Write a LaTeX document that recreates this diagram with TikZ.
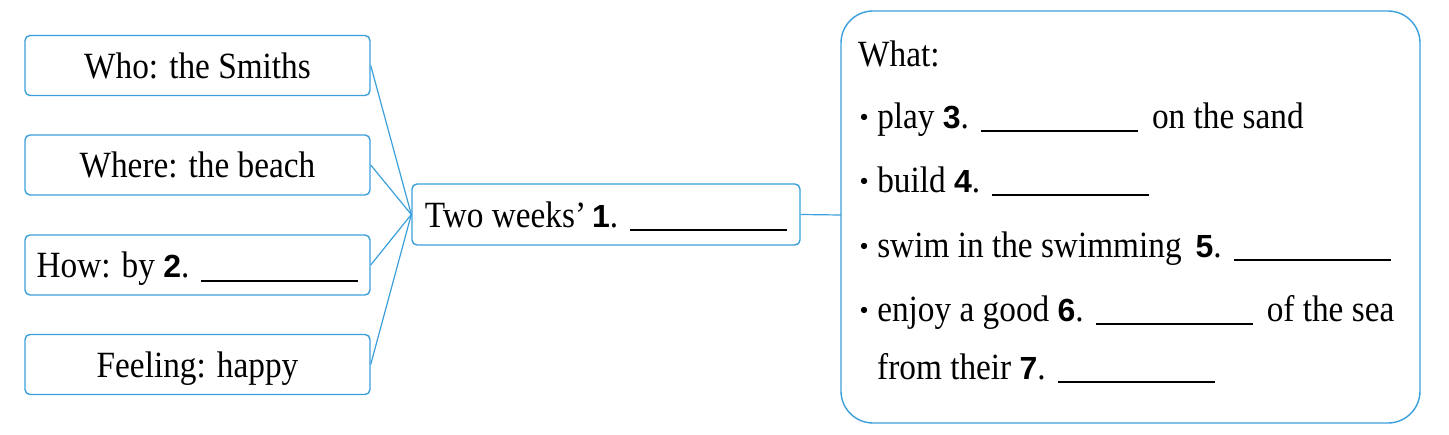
\documentclass[tikz,border=0pt]{standalone}
\usepackage{fontspec}
\setmainfont[FakeStretch=0.9]{Liberation Serif}
\newfontfamily\numfont{Liberation Sans}
\definecolor{lineblue}{HTML}{3A9FDB}
\newcommand{\blank}[1][157pt]{\rule[-4pt]{#1}{1.6pt}}
\newcommand{\num}[1]{{\numfont\bfseries\fontsize{32}{36}\selectfont #1}}
\newcommand{\dotmark}{\raisebox{7pt}{\scalebox{0.65}{$\bullet$}}}
\begin{document}
\begin{tikzpicture}[x=1pt,y=-1pt,
  box/.style={draw=lineblue, line width=1.4pt, rounded corners=5pt, minimum width=345pt, minimum height=60pt, inner sep=0pt, text height=30pt, text depth=5pt, font=\fontsize{37}{42}\selectfont},
  conn/.style={draw=lineblue, line width=1.2pt},
  wtxt/.style={anchor=base west, inner sep=0pt, font=\fontsize{37}{42}\selectfont}]
\useasboundingbox (0,0) rectangle (1449,434);
\node[box] (b1) at (197.5,65.5) {Who: the Smiths};
\node[box] (b2) at (197.5,165) {Where: the beach};
\node[box] (b3) at (197.5,265) {How: by \num{2}.\hspace{12pt}\blank};
\node[box] (b4) at (197.5,364.5) {Feeling: happy};
\node[box, minimum width=388pt, minimum height=61pt] (c) at (606,214.5) {Two weeks'\hspace{6pt}\num{1}.\hspace{12pt}\blank};
\draw[draw=lineblue, line width=1.4pt, rounded corners=32pt] (841,11) rectangle (1420,423);
\coordinate (what) at (841,215);
\draw[conn] (b1.east) -- (c.west);
\draw[conn] (b2.east) -- (c.west);
\draw[conn] (b3.east) -- (c.west);
\draw[conn] (b4.east) -- (c.west);
\draw[conn] (c.east) -- (what);
\node[wtxt] (w0) at (858,66) {What:};
\node[wtxt] (w1) at (860,128) {\dotmark\hspace{9pt}play \num{3}.\hspace{12pt}\blank\hspace{14pt}on the sand};
\node[wtxt] (w2) at (860,192) {\dotmark\hspace{9pt}build \num{4}.\hspace{12pt}\blank};
\node[wtxt] (w3) at (860,257) {\dotmark\hspace{9pt}swim in the swimming\hspace{14pt}\num{5}.\hspace{12pt}\blank};
\node[wtxt] (w4) at (860,321) {\dotmark\hspace{9pt}enjoy a good \num{6}.\hspace{12pt}\blank\hspace{14pt}of the sea};
\node[wtxt] (w5) at (877,379) {from their \num{7}.\hspace{12pt}\blank};
\end{tikzpicture}
\end{document}
